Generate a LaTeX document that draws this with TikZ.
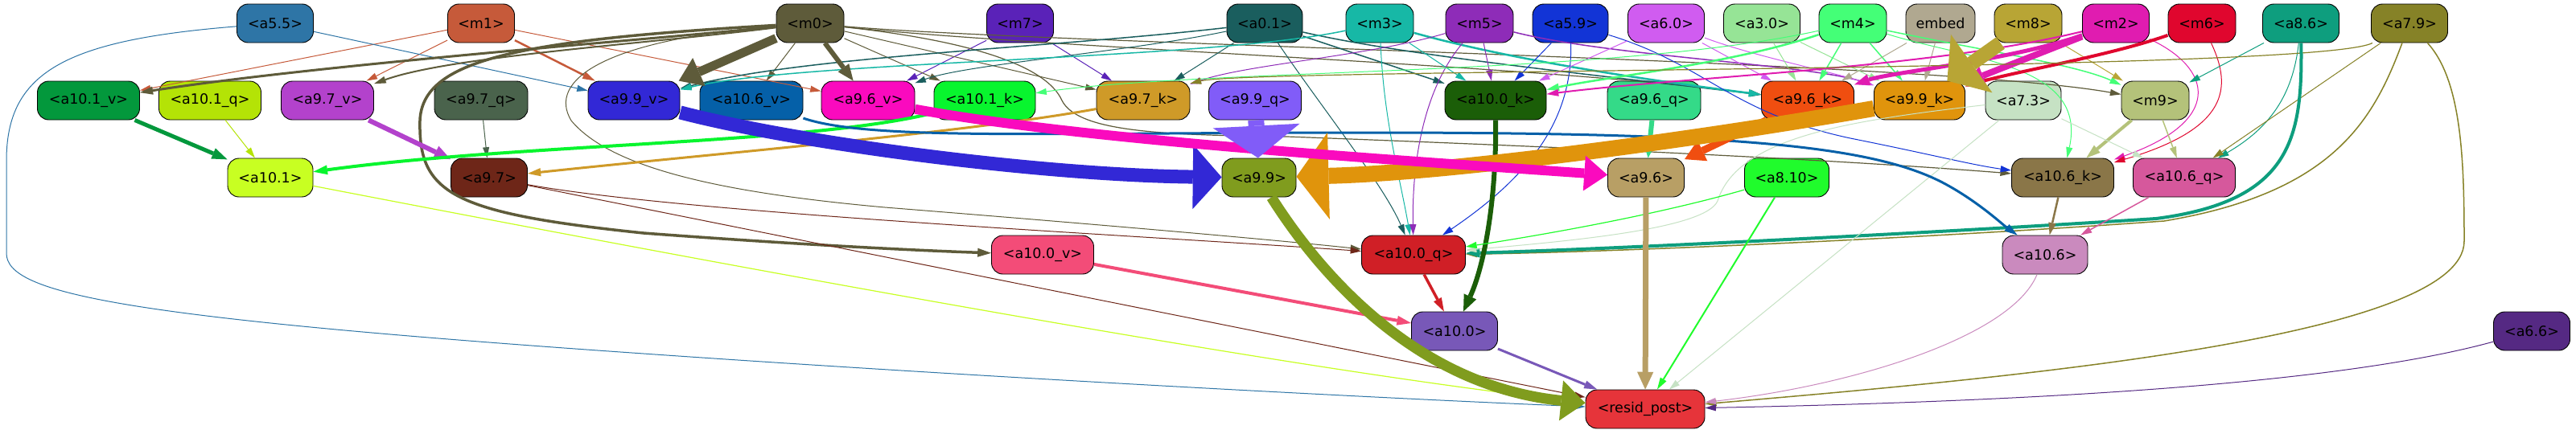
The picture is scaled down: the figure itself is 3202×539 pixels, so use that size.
\documentclass[tikz,border=0pt]{standalone}
\usepackage{fontspec}
\setmainfont{DejaVu Sans}
\usetikzlibrary{arrows.meta}
\newcommand\ndfont{\fontsize{17.5}{21}\selectfont}
% node colours
\definecolor{ca55}{HTML}{2E75A6}\definecolor{cm1}{HTML}{C65A3A}\definecolor{cm0}{HTML}{5E5B3A}
\definecolor{cm7}{HTML}{5A22B8}\definecolor{ca01}{HTML}{1A5E5E}\definecolor{cm3}{HTML}{17B8A6}
\definecolor{cm5}{HTML}{8E2CB8}\definecolor{ca59}{HTML}{1234D6}\definecolor{ca60}{HTML}{D05CF0}
\definecolor{ca30}{HTML}{96E496}\definecolor{cm4}{HTML}{44FF77}\definecolor{cemb}{HTML}{B0A890}
\definecolor{cm8}{HTML}{B8A535}\definecolor{cm2}{HTML}{E01CB0}\definecolor{cm6}{HTML}{E0062E}
\definecolor{ca86}{HTML}{0E9E7E}\definecolor{ca79}{HTML}{868227}
\definecolor{ca101v}{HTML}{03983C}\definecolor{ca101q}{HTML}{B4E306}\definecolor{ca97v}{HTML}{B342CC}
\definecolor{ca97q}{HTML}{4A634C}\definecolor{ca99v}{HTML}{3228D6}\definecolor{ca106v}{HTML}{0560A8}
\definecolor{ca96v}{HTML}{FA0ABE}\definecolor{ca101k}{HTML}{08F52E}\definecolor{ca97k}{HTML}{CF9A28}
\definecolor{ca99q}{HTML}{815CF8}\definecolor{ca100k}{HTML}{1B5E08}\definecolor{ca96q}{HTML}{34DA88}
\definecolor{ca96k}{HTML}{F04E10}\definecolor{ca99k}{HTML}{E0940C}\definecolor{ca73}{HTML}{C6E2C4}
\definecolor{cm9}{HTML}{B4C27A}
\definecolor{ca101}{HTML}{C8FF22}\definecolor{ca97}{HTML}{6E2618}\definecolor{ca99}{HTML}{809C1E}
\definecolor{ca96}{HTML}{B89F65}\definecolor{ca810}{HTML}{20FC2C}\definecolor{ca106k}{HTML}{8A7648}
\definecolor{ca106q}{HTML}{D6589C}\definecolor{ca100v}{HTML}{F34C78}\definecolor{ca100q}{HTML}{D01F26}
\definecolor{ca106}{HTML}{CA8ABE}\definecolor{ca100}{HTML}{7858B8}\definecolor{ca66}{HTML}{552983}
\definecolor{crp}{HTML}{E6343A}
\tikzset{
  nd/.style 2 args={draw=black, line width=0.9pt, rounded corners=14pt, fill=#1,
    minimum width=#2pt, minimum height=48pt, inner sep=0pt, font=\ndfont, text=black},
  ed/.code 2 args={%
    \pgfmathsetmacro\edgeL{12+1.4*#2}%
    \pgfmathsetmacro\edgeW{8+0.25*#2*#2}%
    \edef\edgetmp{\noexpand\pgfkeysalso{/tikz/draw=#1,/tikz/line width=#2pt,/tikz/arrows={-{Triangle[length=\edgeL pt,width=\edgeW pt,line width=0pt]}}}}%
    \edgetmp}
}
\begin{document}
\begin{tikzpicture}[x=1pt,y=-1pt]
\fill[white] (0,0) rectangle (3202,539);
\useasboundingbox (0,0) rectangle (3202,539);
% ---------- row 1
\node[nd={ca55}{95}] (a55) at (342,29) {<a5.5>};
\node[nd={cm1}{83}] (m1) at (598,29) {<m1>};
\node[nd={cm0}{84}] (m0) at (1007,29) {<m0>};
\node[nd={cm7}{83}] (m7) at (1268,29) {<m7>};
\node[nd={ca01}{94}] (a01) at (1572,29) {<a0.1>};
\node[nd={cm3}{84}] (m3) at (1715,29) {<m3>};
\node[nd={cm5}{84}] (m5) at (1839,29) {<m5>};
\node[nd={ca59}{94}] (a59) at (1952,29) {<a5.9>};
\node[nd={ca60}{95}] (a60) at (2071,29) {<a6.0>};
\node[nd={ca30}{95}] (a30) at (2190,29) {<a3.0>};
\node[nd={cm4}{84}] (m4) at (2303,29) {<m4>};
\node[nd={cemb}{86}] (emb) at (2412,29) {embed};
\node[nd={cm8}{84}] (m8) at (2521,29) {<m8>};
\node[nd={cm2}{83}] (m2) at (2630,29) {<m2>};
\node[nd={cm6}{84}] (m6) at (2737,29) {<m6>};
\node[nd={ca86}{95}] (a86) at (2860,29) {<a8.6>};
\node[nd={ca79}{95}] (a79) at (2995,29) {<a7.9>};
% ---------- row 2
\node[nd={ca101v}{127}] (a101v) at (110,125) {<a10.1\_v>};
\node[nd={ca101q}{127}] (a101q) at (261,125) {<a10.1\_q>};
\node[nd={ca97v}{115}] (a97v) at (407,125) {<a9.7\_v>};
\node[nd={ca97q}{116}] (a97q) at (598,125) {<a9.7\_q>};
\node[nd={ca99v}{114}] (a99v) at (788,125) {<a9.9\_v>};
\node[nd={ca106v}{128}] (a106v) at (934,125) {<a10.6\_v>};
\node[nd={ca96v}{116}] (a96v) at (1079,125) {<a9.6\_v>};
\node[nd={ca101k}{126}] (a101k) at (1224,125) {<a10.1\_k>};
\node[nd={ca97k}{116}] (a97k) at (1421,125) {<a9.7\_k>};
\node[nd={ca99q}{115}] (a99q) at (1560,125) {<a9.9\_q>};
\node[nd={ca100k}{126}] (a100k) at (1859,125) {<a10.0\_k>};
\node[nd={ca96q}{116}] (a96q) at (2056,125) {<a9.6\_q>};
\node[nd={ca96k}{115}] (a96k) at (2247,125) {<a9.6\_k>};
\node[nd={ca99k}{113}] (a99k) at (2386,125) {<a9.9\_k>};
\node[nd={ca73}{94}] (a73) at (2515,125) {<a7.3>};
\node[nd={cm9}{84}] (m9) at (2679,125) {<m9>};
% ---------- row 3
\node[nd={ca101}{106}] (a101) at (336,221) {<a10.1>};
\node[nd={ca97}{95}] (a97) at (608,221) {<a9.7>};
\node[nd={ca99}{92}] (a99) at (1565,221) {<a9.9>};
\node[nd={ca96}{95}] (a96) at (2046,221) {<a9.6>};
\node[nd={ca810}{105}] (a810) at (2221,221) {<a8.10>};
\node[nd={ca106k}{127}] (a106k) at (2564,221) {<a10.6\_k>};
\node[nd={ca106q}{127}] (a106q) at (2715,221) {<a10.6\_q>};
% ---------- row 4
\node[nd={ca100v}{127}] (a100v) at (1296,317) {<a10.0\_v>};
\node[nd={ca100q}{129}] (a100q) at (1757,317) {<a10.0\_q>};
\node[nd={ca106}{106}] (a106) at (2542,317) {<a10.6>};
% ---------- row 5, 6
\node[nd={ca100}{107}] (a100) at (1808,412) {<a10.0>};
\node[nd={ca66}{95}] (a66) at (3147,412) {<a6.6>};
\node[nd={crp}{148}] (rp) at (2045,509) {<resid\_post>};

% ================= edges (thin first)
% m1, a5.5, m7
\draw[ed={cm1}{1}] (m1) -- (a101v);
\draw[ed={cm1}{1}] (m1) -- (a97v);
\draw[ed={cm1}{2.5}] (m1) -- (a99v);
\draw[ed={cm1}{1}] (m1) -- (a96v);
\draw[ed={ca55}{1}] (a55) -- (a99v);
\draw[ed={ca55}{1}] (a55) .. controls (80,50) and (8,90) .. (8,200) -- (8,315) .. controls (8,365) and (150,395) .. (800,440) .. controls (1200,468) and (1700,495) .. (rp);
\draw[ed={cm7}{1}] (m7) -- (a96v);
\draw[ed={cm7}{1}] (m7) -- (a97k);
% m0
\draw[ed={cm0}{1}] (m0) -- (a106v);
\draw[ed={cm0}{1}] (m0) -- (a101k);
\draw[ed={cm0}{1}] (m0) -- (a97k);
\draw[ed={cm0}{1}] (m0) .. controls (750,50) and (680,100) .. (710,150) .. controls (760,210) and (900,240) .. (1100,258) .. controls (1400,282) and (1600,300) .. (a100q);
\draw[ed={cm0}{1.2}] (m0) .. controls (1300,60) and (1900,80) .. (a96k);
\draw[ed={cm0}{1.2}] (m0) .. controls (1300,55) and (2400,75) .. (m9);
\draw[ed={cm0}{1.2}] (m0) .. controls (1200,50) and (1300,80) .. (1320,125) .. controls (1340,165) and (1450,168) .. (1600,170) .. controls (2000,185) and (2300,200) .. (a106k);
\draw[ed={cm0}{2}] (m0) .. controls (800,55) and (560,70) .. (a97v);
\draw[ed={cm0}{3}] (m0) .. controls (800,50) and (400,80) .. (a101v);
\draw[ed={cm0}{3.5}] (m0) .. controls (640,50) and (525,75) .. (522,150) .. controls (520,240) and (560,265) .. (800,290) .. controls (1000,305) and (1150,312) .. (a100v);
% a0.1
\draw[ed={ca01}{1.5}] (a01) .. controls (1300,60) and (1000,70) .. (a99v);
\draw[ed={ca01}{1}] (a01) .. controls (1400,65) and (1200,80) .. (a96v);
\draw[ed={ca01}{1}] (a01) -- (a97k);
\draw[ed={ca01}{1.5}] (a01) -- (a100k);
\draw[ed={ca01}{1}] (a01) .. controls (1640,130) and (1720,230) .. (a100q);
\draw[ed={ca01}{1.5}] (a01) .. controls (1750,70) and (2000,95) .. (a96k);
% m3
\draw[ed={cm3}{1.5}] (m3) .. controls (1500,75) and (1000,75) .. (a99v);
\draw[ed={cm3}{1}] (m3) -- (a100k);
\draw[ed={cm3}{1}] (m3) .. controls (1720,150) and (1740,220) .. (a100q);
\draw[ed={cm3}{2.5}] (m3) .. controls (1880,75) and (2050,100) .. (a96k);
% m5
\draw[ed={cm5}{1}] (m5) .. controls (1700,70) and (1550,80) .. (a97k);
\draw[ed={cm5}{1}] (m5) -- (a100k);
\draw[ed={cm5}{1}] (m5) .. controls (1770,110) and (1755,200) .. (a100q);
\draw[ed={cm5}{1.5}] (m5) .. controls (2000,70) and (2250,80) .. (a99k);
% a5.9
\draw[ed={ca59}{1}] (a59) -- (a100k);
\draw[ed={ca59}{1}] (a59) .. controls (1955,150) and (1900,220) .. (a100q);
\draw[ed={ca59}{1}] (a59) .. controls (2120,80) and (2150,140) .. (2300,172) .. controls (2400,192) and (2450,205) .. (a106k);
% a6.0, a3.0
\draw[ed={ca60}{1}] (a60) -- (a100k);
\draw[ed={ca60}{1}] (a60) -- (a96k);
\draw[ed={ca60}{1}] (a60) .. controls (2180,70) and (2280,90) .. (a99k);
\draw[ed={ca30}{1}] (a30) -- (a96k);
\draw[ed={ca30}{1}] (a30) -- (a99k);
% m4
\draw[ed={cm4}{1}] (m4) .. controls (2000,95) and (1500,85) .. (a101k);
\draw[ed={cm4}{1.5}] (m4) -- (a96k);
\draw[ed={cm4}{1.5}] (m4) -- (a99k);
\draw[ed={cm4}{1.5}] (m4) .. controls (2450,60) and (2580,80) .. (m9);
\draw[ed={cm4}{1}] (m4) .. controls (2450,75) and (2595,80) .. (a106k);
\draw[ed={cm4}{2.5}] (m4) .. controls (2150,80) and (2000,95) .. (a100k);
% embed, m8
\draw[ed={cemb}{1}] (emb) -- (a96k);
\draw[ed={cemb}{1}] (emb) -- (a99k);
\draw[ed={cm8}{1}] (m8) -- (m9);
% m2, m6
\draw[ed={cm2}{1}] (m2) .. controls (2750,85) and (2765,150) .. (a106k);
\draw[ed={cm6}{1}] (m6) .. controls (2775,110) and (2770,160) .. (a106k);
\draw[ed={cm2}{2}] (m2) .. controls (2400,85) and (2100,95) .. (a100k);
\draw[ed={cm2}{5}] (m2) .. controls (2500,75) and (2350,90) .. (a96k);
\draw[ed={cm6}{4}] (m6) .. controls (2620,70) and (2500,90) .. (a99k);
\draw[ed={cm2}{8}] (m2) -- (a99k);
% a8.6, a7.9
\draw[ed={ca86}{1}] (a86) -- (m9);
\draw[ed={ca86}{1}] (a86) .. controls (2850,120) and (2820,160) .. (a106q);
\draw[ed={ca79}{1}] (a79) -- (a106q);
\draw[ed={ca79}{1.2}] (a79) .. controls (2880,90) and (1560,85) .. (a97k.20);
\draw[ed={ca79}{1.5}] (a79) .. controls (3060,100) and (3063,200) .. (3063,300) .. controls (3063,420) and (2500,470) .. (rp);
\draw[ed={ca79}{1.5}] (a79) .. controls (2950,150) and (2900,240) .. (2690,275) .. controls (2400,296) and (2000,314) .. (a100q);
\draw[ed={ca86}{4}] (a86) .. controls (2862,170) and (2850,250) .. (2680,272) .. controls (2400,290) and (2000,310) .. (a100q);
% m9, a7.3
\draw[ed={cm9}{1.5}] (m9) -- (a106q);
\draw[ed={cm9}{4}] (m9) -- (a106k);
\draw[ed={ca73}{1}] (a73) -- (a106q);
\draw[ed={ca73}{1}] (a73) -- (rp);
\draw[ed={ca73}{1}] (a73) .. controls (2300,150) and (2160,170) .. (2135,250) .. controls (2120,285) and (1950,300) .. (a100q);
% row 2 -> row 3
\draw[ed={ca101q}{1}] (a101q) -- (a101);
\draw[ed={ca97q}{1}] (a97q) -- (a97);
\draw[ed={ca101v}{5}] (a101v) -- (a101);
\draw[ed={ca97v}{6}] (a97v) -- (a97);
\draw[ed={ca101k}{4}] (a101k) .. controls (1000,180) and (650,178) .. (a101);
\draw[ed={ca97k}{3}] (a97k) .. controls (1200,165) and (900,190) .. (a97);
\draw[ed={ca106v}{3}] (a106v) .. controls (1080,175) and (1300,165) .. (1700,165) .. controls (2150,165) and (2330,180) .. (2420,230) .. controls (2460,252) and (2490,280) .. (a106);
\draw[ed={ca96q}{6}] (a96q) -- (a96);
\draw[ed={ca96k}{9}] (a96k) -- (a96);
\draw[ed={ca100k}{6}] (a100k) .. controls (1860,250) and (1845,330) .. (a100);
% lower
\draw[ed={ca101}{1.2}] (a101) .. controls (900,330) and (1600,460) .. (rp);
\draw[ed={ca97}{1}] (a97) .. controls (850,265) and (1400,292) .. (a100q);
\draw[ed={ca97}{1}] (a97) -- (rp);
\draw[ed={ca810}{1.2}] (a810) .. controls (2050,270) and (1900,295) .. (a100q);
\draw[ed={ca810}{2}] (a810) -- (rp);
\draw[ed={ca106k}{2.5}] (a106k) -- (a106);
\draw[ed={ca106q}{1.5}] (a106q) -- (a106);
\draw[ed={ca100v}{4}] (a100v) -- (a100);
\draw[ed={ca100q}{3.5}] (a100q) -- (a100);
\draw[ed={ca100}{3}] (a100) -- (rp);
\draw[ed={ca106}{1}] (a106) .. controls (2500,420) and (2300,480) .. (rp);
\draw[ed={ca66}{1}] (a66) .. controls (2900,480) and (2500,500) .. (rp);
\draw[ed={ca96}{7}] (a96) -- (rp);
% thick ones on top
\draw[ed={cm0}{6}] (m0) -- (a96v);
\draw[ed={cm0}{11}] (m0) -- (a99v);
\draw[ed={ca99}{13}] (a99) .. controls (1640,340) and (1760,480) .. (rp);
\draw[ed={ca99k}{20}] (a99k) .. controls (2100,175) and (1800,215) .. (a99);
\draw[ed={ca99v}{17}] (a99v) .. controls (1000,180) and (1300,218) .. (a99);
\draw[ed={ca96v}{12}] (a96v) .. controls (1350,175) and (1750,200) .. (a96);
\draw[ed={ca99q}{20}] (a99q) -- (a99);
\draw[ed={cm8}{18}] (m8) -- (a99k);
\end{tikzpicture}
\end{document}
